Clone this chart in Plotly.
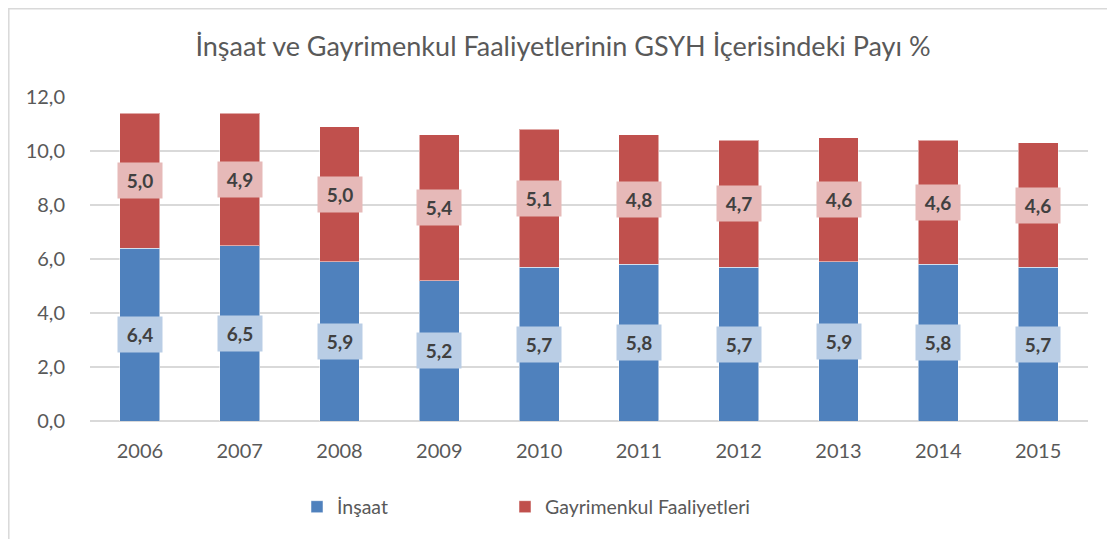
import plotly.graph_objects as go

years = ["2006", "2007", "2008", "2009", "2010", "2011", "2012", "2013", "2014", "2015"]
insaat = [6.4, 6.5, 5.9, 5.2, 5.7, 5.8, 5.7, 5.9, 5.8, 5.7]
gayrimenkul = [5.0, 4.9, 5.0, 5.4, 5.1, 4.8, 4.7, 4.6, 4.6, 4.6]
y_ticks = [0, 2, 4, 6, 8, 10, 12]
y_tick_labels = ["0,0", "2,0", "4,0", "6,0", "8,0", "10,0", "12,0"]

title = "İnşaat ve Gayrimenkul Faaliyetlerinin GSYH İçerisindeki Payı %"
FONT = "Lato"
BLUE = "#4F81BD"
RED = "#C0504D"

fig = go.Figure()
fig.add_trace(go.Bar(x=years, y=insaat, name="İnşaat", legend="legend",
                     marker=dict(color=BLUE, line=dict(color="rgba(255,255,255,0.5)", width=1))))
fig.add_trace(go.Bar(x=years, y=gayrimenkul, name="Gayrimenkul Faaliyetleri", legend="legend2",
                     marker=dict(color=RED, line=dict(color="rgba(255,255,255,0.5)", width=1))))

def fmt(v):
    return f"{v:.1f}".replace(".", ",")

for i, (a, b) in enumerate(zip(insaat, gayrimenkul)):
    fig.add_annotation(x=i, y=a / 2, text=f"<b>{fmt(a)}</b>", showarrow=False,
                       bgcolor="#B9CDE5", width=40, height=31, borderpad=2,
                       font=dict(family=FONT, size=19, color="#404040"))
    fig.add_annotation(x=i, y=a + b / 2, text=f"<b>{fmt(b)}</b>", showarrow=False,
                       bgcolor="#E6B9B8", width=40, height=31, borderpad=2,
                       font=dict(family=FONT, size=19, color="#404040"))

L, R, T, B = 82, 35, 89, 126
PW = 1115 - L - R
PH = 539 - T - B

fig.add_shape(type="rect", xref="paper", yref="paper",
              x0=(0.8 - L) / PW, x1=1.2, y0=-0.6, y1=1 + (T - 0.8) / PH,
              line=dict(color="#D9D9D9", width=1.5), fillcolor="rgba(0,0,0,0)", layer="below")

legend_font = dict(family=FONT, size=19.5, color="#595959")

fig.update_layout(
    barmode="stack",
    bargap=0.6,
    width=1115, height=539,
    margin=dict(l=L, r=R, t=T, b=B),
    paper_bgcolor="white", plot_bgcolor="white",
    title=dict(text=title, x=555 / 1115, xanchor="center", y=1 - 39 / 539, yanchor="middle",
               font=dict(family=FONT, size=27, color="#595959")),
    font=dict(family=FONT, color="#595959"),
    xaxis=dict(type="category", range=[-0.5, 9.5], showgrid=False, showline=False, ticks="",
               ticklabelstandoff=16, tickfont=dict(size=20, color="#595959")),
    yaxis=dict(range=[0, 12], tickvals=y_ticks, ticktext=y_tick_labels, showgrid=True,
               gridcolor="#D9D9D9", gridwidth=1.5, zeroline=True, zerolinecolor="#D9D9D9",
               zerolinewidth=1.5, ticks="", ticklabelstandoff=24,
               tickfont=dict(size=20, color="#595959")),
    legend=dict(orientation="h", x=(289 - L) / PW, xanchor="left", y=-86 / PH, yanchor="middle",
                font=legend_font, itemwidth=30),
    legend2=dict(orientation="h", x=(497 - L) / PW, xanchor="left", y=-86 / PH, yanchor="middle",
                 font=legend_font, itemwidth=30),
    showlegend=True,
)

fig.write_html("out.html")
